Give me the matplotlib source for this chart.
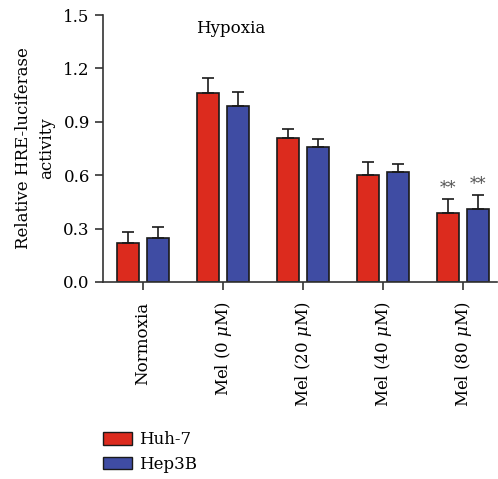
import numpy as np
import matplotlib.pyplot as plt
from matplotlib.patches import Patch

plt.rcParams['font.family'] = ['DejaVu Serif']
plt.rcParams['mathtext.fontset'] = 'dejavuserif'

# Data
groups = ['Normoxia', r'Mel (0 $\mu$M)', r'Mel (20 $\mu$M)', r'Mel (40 $\mu$M)', r'Mel (80 $\mu$M)']
huh7 = [0.22, 1.06, 0.81, 0.60, 0.39]
huh7_err = [0.06, 0.085, 0.05, 0.075, 0.075]
hep3b = [0.25, 0.99, 0.76, 0.62, 0.41]
hep3b_err = [0.06, 0.075, 0.045, 0.045, 0.08]
stars = ['', '', '', '', '**']

red = '#DC2B1E'
blue = '#3F4CA3'

fig = plt.figure(figsize=(4.98, 4.79), dpi=100)
ax = fig.add_axes([103 / 498, 1 - 282 / 479, 394 / 498, 267 / 479])

x = np.arange(len(groups))
w = 0.28
off = 0.1875
ax.bar(x - off, huh7, w, color=red, edgecolor='#1a1a1a', linewidth=1.2,
       yerr=[np.zeros(len(huh7)), huh7_err], capsize=4.5,
       error_kw=dict(ecolor='#1a1a1a', elinewidth=1.2, capthick=1.2))
ax.bar(x + off, hep3b, w, color=blue, edgecolor='#1a1a1a', linewidth=1.2,
       yerr=[np.zeros(len(hep3b)), hep3b_err], capsize=4.5,
       error_kw=dict(ecolor='#1a1a1a', elinewidth=1.2, capthick=1.2))

for i, s in enumerate(stars):
    if s:
        ax.text(x[i] - off, huh7[i] + huh7_err[i] + 0.01, s, ha='center', va='bottom',
                fontsize=12, color='#555555')
        ax.text(x[i] + off, hep3b[i] + hep3b_err[i] + 0.01, s, ha='center', va='bottom',
                fontsize=12, color='#555555')

ax.set_xlim(-0.5, 4.425)
ax.set_ylim(0, 1.5)
ax.set_yticks([0.0, 0.3, 0.6, 0.9, 1.2, 1.5])
ax.set_yticklabels(['0.0', '0.3', '0.6', '0.9', '1.2', '1.5'], fontsize=12)
ax.set_xticks(x)
ax.set_xticklabels(groups, rotation=90, fontsize=12)
ax.spines['top'].set_visible(False)
ax.spines['right'].set_visible(False)
for sp in ['left', 'bottom']:
    ax.spines[sp].set_color('#333333')
    ax.spines[sp].set_linewidth(1.2)
ax.tick_params(direction='out', length=6, width=1.2, color='#333333')
ax.tick_params(axis='x', pad=8)
ax.set_ylabel('Relative HRE-luciferase\nactivity', fontsize=12, linespacing=1.45, labelpad=6)

ax.text(0.325, 0.95, 'Hypoxia', transform=ax.transAxes, ha='center', va='center', fontsize=12)

handles = [Patch(facecolor=red, edgecolor='#1a1a1a', label='Huh-7'),
           Patch(facecolor=blue, edgecolor='#1a1a1a', label='Hep3B')]
fig.legend(handles=handles, loc='lower left', bbox_to_anchor=(86 / 498, -0.022),
           frameon=False, fontsize=12, handlelength=1.75, handleheight=0.8,
           labelspacing=0.45, handletextpad=0.45, borderpad=0.5)

fig.savefig('out.png', dpi=100)
